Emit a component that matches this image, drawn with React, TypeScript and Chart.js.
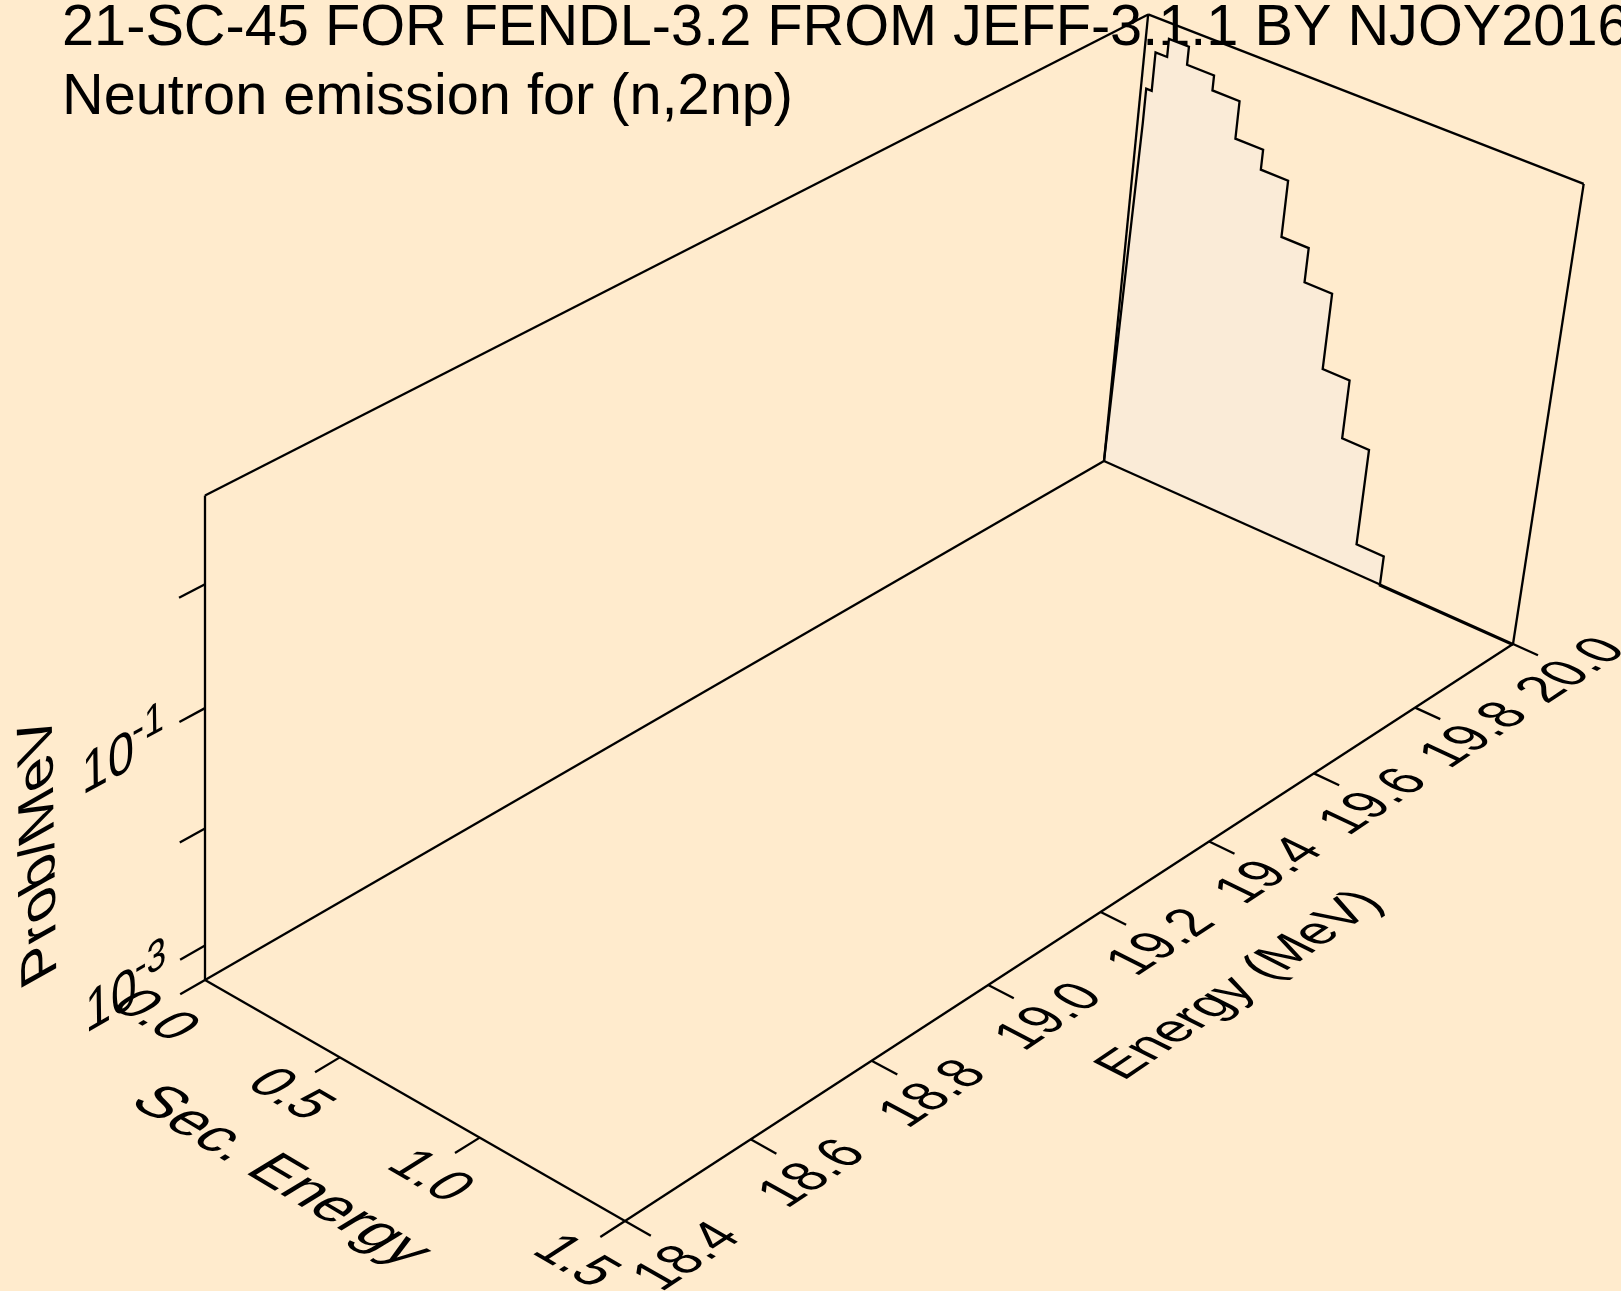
import React, { useEffect, useRef } from "react";
import { Chart, registerables } from "chart.js";
Chart.register(...registerables);

const W = 1621, H = 1291;
const FONT = "'Liberation Sans', Arial, sans-serif";
const titleLines = ["21-SC-45 FOR FENDL-3.2 FROM JEFF-3.1.1 BY NJOY2016", "Neutron emission for (n,2np)"];
const incidentTicks = [18.4, 18.6, 18.8, 19.0, 19.2, 19.4, 19.6, 19.8, 20.0];
const secondaryTicks = [0, 0.5, 1.0, 1.5];
const probDecades = [-3, -2, -1, 0];
const probLabelled = [-3, -1];
const secEdges = [0.019, 0.039, 0.081, 0.153, 0.25, 0.347, 0.446, 0.543, 0.64, 0.738, 0.834, 0.93, 1.028];
const logProbLevels = [0.08, 0.41, 0.565, 0.41, 0.282, -0.04, -0.212, -0.70, -1.0, -1.666, -2.183, -3.043];
const logProbFirst = -0.22;
const logProbFloor = -3.31;

const eMin = 18.4, eMax = 20, sMin = 0, sMax = 1.5, zMin = Math.log10(5e-4), zMax = Math.log10(5);
const corners = { A: [205, 980], B: [625, 1221], C: [1513, 644], D: [1104, 461], Ap: [205, 495.5], Cp: [1583.7, 183.3] };
const LINE = 2.3;

function solve3(m: number[][], r: number[]) {
  const a = m.map((row, i) => [...row, r[i]]);
  for (let i = 0; i < 3; i++) {
    let p = i;
    for (let k = i + 1; k < 3; k++) if (Math.abs(a[k][i]) > Math.abs(a[p][i])) p = k;
    [a[i], a[p]] = [a[p], a[i]];
    for (let k = 0; k < 3; k++) if (k !== i) {
      const f = a[k][i] / a[i][i];
      for (let j = i; j < 4; j++) a[k][j] -= f * a[i][j];
    }
  }
  return a.map((row, i) => row[3] / row[i]);
}
const { A, B, C, D, Ap, Cp } = corners;
const [l1, l2] = solve3(
  [[D[0], B[0], -C[0]], [D[1], B[1], -C[1]], [1, 1, -1]],
  [A[0], A[1], 1]
);
const l3 = (Cp[0] * (l1 + l2 - 2) - (l1 * D[0] + l2 * B[0] - 2 * A[0])) / (Ap[0] - Cp[0]);
function cube(u: number, v: number, w: number) {
  const d = 1 + u * (l1 - 1) + v * (l2 - 1) + w * (l3 - 1);
  const x = A[0] + u * (l1 * D[0] - A[0]) + v * (l2 * B[0] - A[0]) + w * (l3 * Ap[0] - A[0]);
  const y = A[1] + u * (l1 * D[1] - A[1]) + v * (l2 * B[1] - A[1]) + w * (l3 * Ap[1] - A[1]);
  return { x: x / d - 2 * u * (1 - v) * w, y: y / d };
}
const U = (e: number) => (e - eMin) / (eMax - eMin);
const V = (s: number) => (s - sMin) / (sMax - sMin);
const Wz = (z: number) => (z - zMin) / (zMax - zMin);
const spectrum = (s: number, z: number) => cube(1, V(s), Wz(z));

function dirAt(p: number[], axis: number) {
  const q = [...p];
  q[axis] += 0.01;
  const a = cube(p[0], p[1], p[2]), b = cube(q[0], q[1], q[2]);
  const dx = b.x - a.x, dy = b.y - a.y, l = Math.hypot(dx, dy);
  return { x: dx / l, y: dy / l };
}
function skewText(g: any, text: string, p: number[], baseAxis: number, baseSign: number, upAxis: number, upSign: number, sb: number, su: number, align: CanvasTextAlign, draw?: (g: any) => void) {
  const o = cube(p[0], p[1], p[2]);
  const b = dirAt(p, baseAxis), up = dirAt(p, upAxis);
  g.save();
  g.transform(b.x * baseSign * sb, b.y * baseSign * sb, -up.x * upSign * su, -up.y * upSign * su, o.x, o.y);
  g.textAlign = align;
  g.textBaseline = "alphabetic";
  g.fillStyle = "#000";
  g.font = `58px ${FONT}`;
  g.fillText(text, 0, 0);
  if (draw) draw(g);
  g.restore();
}

export default function App() {
  const ref = useRef<HTMLCanvasElement>(null);
  useEffect(() => {
    document.body.style.margin = "0";
    const seg = (a: number[], b: number[]) => ({
      data: [cube(a[0], a[1], a[2]), cube(b[0], b[1], b[2])],
      borderColor: "#000", borderWidth: LINE, pointRadius: 0, showLine: true, fill: false,
    });
    const ds: any[] = [
      seg([0,0,0],[1,0,0]), seg([0,0,0],[0,1,0]), seg([0,1,0],[1,1,0]), seg([1,1,0],[1,0,0]),
      seg([0,0,0],[0,0,1]), seg([1,0,0],[1,0,1]), seg([1,1,0],[1,1,1]),
      seg([0,0,1],[1,0,1]), seg([1,0,1],[1,1,1]),
    ];
    probDecades.forEach((z) => ds.push(seg([0,0,Wz(z)],[-0.024,0,Wz(z)])));
    secondaryTicks.forEach((s) => ds.push(seg([0,V(s),0],[-0.024,V(s),0])));
    incidentTicks.forEach((e) => ds.push(seg([U(e),1,0],[U(e),1.058,0])));
    const curve: any[] = [spectrum(sMin, zMin), spectrum(secEdges[0], logProbFirst)];
    logProbLevels.forEach((z, i) => {
      curve.push(spectrum(secEdges[i], z), spectrum(secEdges[i + 1], z));
    });
    curve.push(spectrum(secEdges[secEdges.length - 1], logProbFloor), spectrum(sMax, logProbFloor));
    ds.push({
      data: curve, borderColor: "#000", borderWidth: LINE, pointRadius: 0, showLine: true,
      fill: "shape", backgroundColor: "#FAEBD7", tension: 0,
    });
    const deco = {
      id: "deco",
      beforeDraw(c: any) {
        const g = c.ctx;
        g.fillStyle = "#FFEBCD"; g.fillRect(0, 0, W, H);
        g.fillStyle = "#000"; g.textAlign = "left"; g.textBaseline = "alphabetic";
        g.font = `57.7px ${FONT}`;
        g.fillText(titleLines[0], 62, 45);
        g.fillText(titleLines[1], 62, 113.5);
      },
      afterDraw(c: any) {
        const g = c.ctx;
        secondaryTicks.forEach((s) =>
          skewText(g, s.toFixed(1), [-0.068, V(s) + 0.015, 0], 1, 1, 0, 1, 0.9, 1.0, "center"));
        incidentTicks.forEach((e) =>
          skewText(g, e.toFixed(1), [U(e), 1.172, 0], 0, 1, 1, -1, 0.87, 1.0, "center"));
        skewText(g, "Sec. Energy", [-0.137, 0.501, 0], 1, 1, 0, 1, 1.02, 1.05, "center");
        skewText(g, "Energy (MeV)", [0.497, 1.35, 0], 0, 1, 1, -1, 0.885, 0.95, "center");
        skewText(g, "Prob/MeV", [-0.14, 0, 0.197], 2, 1, 0, -1, 1.02, 1, "left");
        probLabelled.forEach((z) =>
          skewText(g, "10", [-0.114, 0, Wz(z) - 0.042], 0, 1, 2, 1, 0.92, 1, "left", (t) => {
            const adv = t.measureText("10").width;
            t.font = `44px ${FONT}`;
            t.fillText(String(z), adv * 0.97, -22);
          }));
      },
    };
    const chart = new Chart(ref.current!, {
      type: "scatter",
      data: { datasets: ds },
      options: {
        animation: false, responsive: false,
        layout: { padding: 0 },
        plugins: { legend: { display: false }, tooltip: { enabled: false } },
        scales: {
          x: { type: "linear", min: 0, max: W, display: false },
          y: { type: "linear", min: 0, max: H, reverse: true, display: false },
        },
      },
      plugins: [deco],
    });
    return () => chart.destroy();
  }, []);
  return <canvas ref={ref} width={W} height={H} style={{ display: "block" }} />;
}
